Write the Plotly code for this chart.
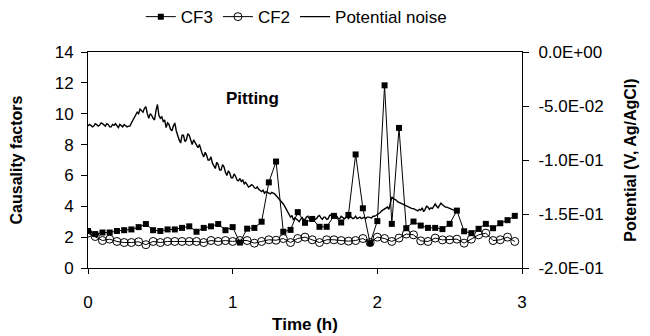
import plotly.graph_objects as go

# ---- data ----
cf_time = [round(i * 0.05, 2) for i in range(60)]
cf3 = [2.4, 2.2, 2.3, 2.3, 2.4, 2.45, 2.5, 2.65, 2.85, 2.45,
       2.4, 2.5, 2.5, 2.6, 2.7, 2.35, 2.6, 2.7, 2.85, 2.45,
       2.65, 1.65, 2.55, 2.6, 3.0, 5.55, 6.9, 2.35, 2.47, 3.62,
       2.93, 3.18, 2.67, 2.67, 3.38, 2.95, 3.44, 7.36, 3.87, 1.61,
       3.04, 11.84, 2.86, 9.08, 2.58, 3.01, 2.75, 2.6, 2.6, 2.52,
       2.86, 3.72, 2.38, 2.26, 2.54, 2.86, 2.58, 2.9, 3.1, 3.38]
cf2 = [2.26, 2.04, 1.78, 1.87, 1.72, 1.65, 1.65, 1.70, 1.51, 1.72,
       1.65, 1.72, 1.72, 1.72, 1.72, 1.72, 1.65, 1.78, 1.72, 1.78,
       1.72, 1.78, 1.78, 1.61, 1.72, 1.83, 1.80, 1.91, 1.65, 1.91,
       2.0, 1.83, 1.65, 1.83, 1.83, 1.78, 1.74, 1.78, 1.91, 1.65,
       2.0, 1.91, 1.72, 1.94, 2.2, 2.15, 1.76, 1.72, 1.94, 1.82,
       1.83, 1.87, 1.61, 1.87, 2.15, 2.26, 1.78, 1.83, 2.0, 1.72]

pot_time = [round(i * 0.01, 2) for i in range(255)]
potential = [
    -0.0686, -0.0671, -0.0679, -0.0693, -0.0686, -0.0664, -0.0671, -0.0686, -0.0679, -0.0657,
    -0.0664, -0.0679, -0.0686, -0.0664, -0.0671, -0.0693, -0.0693, -0.0671, -0.0679, -0.0664,
    -0.0686, -0.0700, -0.0671, -0.0679, -0.0693, -0.0671, -0.0679, -0.0693, -0.0686, -0.0686,
    -0.0657, -0.0629, -0.0600, -0.0586, -0.0557, -0.0571, -0.0529, -0.0543, -0.0557, -0.0521,
    -0.0507, -0.0571, -0.0614, -0.0571, -0.0586, -0.0614, -0.0629, -0.0543, -0.0486, -0.0586,
    -0.0614, -0.0600, -0.0643, -0.0629, -0.0700, -0.0657, -0.0671, -0.0714, -0.0729, -0.0686,
    -0.0657, -0.0729, -0.0786, -0.0814, -0.0843, -0.0771, -0.0771, -0.0829, -0.0814, -0.0757,
    -0.0771, -0.0829, -0.0857, -0.0814, -0.0843, -0.0871, -0.0886, -0.0857, -0.0914, -0.0943,
    -0.0971, -0.0929, -0.0957, -0.1000, -0.1000, -0.0971, -0.1029, -0.1057, -0.1079, -0.1021,
    -0.1043, -0.1093, -0.1093, -0.1043, -0.1064, -0.1114, -0.1143, -0.1100, -0.1121, -0.1164,
    -0.1164, -0.1129, -0.1150, -0.1186, -0.1193, -0.1171, -0.1200, -0.1186, -0.1221, -0.1207,
    -0.1229, -0.1250, -0.1243, -0.1229, -0.1236, -0.1257, -0.1264, -0.1250, -0.1271, -0.1286,
    -0.1293, -0.1279, -0.1307, -0.1293, -0.1300, -0.1314, -0.1314, -0.1300, -0.1307, -0.1314,
    -0.1329, -0.1343, -0.1357, -0.1371, -0.1386, -0.1407, -0.1429, -0.1457, -0.1486, -0.1500,
    -0.1529, -0.1514, -0.1557, -0.1536, -0.1543, -0.1557, -0.1571, -0.1543, -0.1529, -0.1557,
    -0.1550, -0.1529, -0.1521, -0.1543, -0.1557, -0.1529, -0.1529, -0.1550, -0.1543, -0.1521,
    -0.1514, -0.1536, -0.1550, -0.1529, -0.1529, -0.1550, -0.1543, -0.1514, -0.1507, -0.1529,
    -0.1536, -0.1514, -0.1521, -0.1543, -0.1543, -0.1521, -0.1529, -0.1543, -0.1536, -0.1521,
    -0.1543, -0.1529, -0.1529, -0.1543, -0.1536, -0.1521, -0.1543, -0.1536, -0.1529, -0.1543,
    -0.1536, -0.1529, -0.1543, -0.1529, -0.1529, -0.1536, -0.1536, -0.1521, -0.1521, -0.1514,
    -0.1507, -0.1500, -0.1486, -0.1471, -0.1464, -0.1450, -0.1443, -0.1436, -0.1457, -0.1386,
    -0.1343, -0.1357, -0.1364, -0.1371, -0.1386, -0.1393, -0.1400, -0.1407, -0.1414, -0.1414,
    -0.1421, -0.1429, -0.1436, -0.1443, -0.1450, -0.1450, -0.1457, -0.1464, -0.1471, -0.1457,
    -0.1464, -0.1443, -0.1479, -0.1457, -0.1429, -0.1436, -0.1457, -0.1443, -0.1450, -0.1429,
    -0.1407, -0.1429, -0.1443, -0.1421, -0.1400, -0.1414, -0.1429, -0.1436, -0.1436, -0.1443,
    -0.1450, -0.1450, -0.1457, -0.1464, -0.1471]

x_ticks = [0, 1, 2, 3]
y_ticks = [0, 2, 4, 6, 8, 10, 12, 14]
y2_ticks = [0.0, -0.05, -0.10, -0.15, -0.20]
y2_ticktext = ["0.0E+00", "-5.0E-02", "-1.0E-01", "-1.5E-01", "-2.0E-01"]

FONT = "Liberation Sans, Arial, sans-serif"

fig = go.Figure()
fig.add_trace(go.Scatter(x=cf_time, y=cf3, name="CF3", mode="lines+markers",
                         line=dict(color="black", width=1),
                         marker=dict(symbol="square", size=6, color="black")))
fig.add_trace(go.Scatter(x=cf_time, y=cf2, name="CF2", mode="lines+markers",
                         line=dict(color="black", width=1),
                         marker=dict(symbol="circle-open", size=8, color="black",
                                     line=dict(width=1, color="black"))))
fig.add_trace(go.Scatter(x=pot_time, y=potential, name="Potential noise", mode="lines",
                         line=dict(color="black", width=1.4), yaxis="y2"))

fig.add_annotation(x=1.14, y=11.0, text="<b>Pitting</b>", showarrow=False,
                   font=dict(size=17, color="black", family=FONT))

fig.update_layout(
    template="none",
    width=650, height=336,
    margin=dict(l=88, r=128, t=52, b=68, pad=0, autoexpand=False),
    paper_bgcolor="white", plot_bgcolor="white",
    font=dict(family=FONT, size=17, color="black"),
    showlegend=True,
    legend=dict(orientation="h", x=0.48, xanchor="center", y=1.245, yanchor="top",
                font=dict(size=17), itemwidth=30, tracegroupgap=0,
                bgcolor="rgba(0,0,0,0)", borderwidth=0),
    xaxis=dict(range=[0, 3], tickvals=x_ticks, showline=True, linecolor="black",
               linewidth=1, mirror=True, ticks="outside", ticklen=5, tickcolor="black",
               showgrid=False, zeroline=False, ticklabelstandoff=14, automargin=False,
               title=dict(text="<b>Time (h)</b>", font=dict(size=17), standoff=6)),
    yaxis=dict(range=[0, 14], tickvals=y_ticks, showline=True, linecolor="black",
               linewidth=1, ticks="outside", ticklen=6, tickcolor="black",
               showgrid=False, zeroline=False, ticklabelstandoff=4, automargin=False,
               title=dict(text="<b>Causality factors</b>", font=dict(size=16), standoff=28)),
    yaxis2=dict(range=[-0.2, 0.0], overlaying="y", side="right", tickvals=y2_ticks,
                ticktext=y2_ticktext, showline=True, linecolor="black", linewidth=1,
                ticks="outside", ticklen=6, tickcolor="black", showgrid=False,
                zeroline=False, ticklabelstandoff=6, automargin=False,
                title=dict(text="<b>Potential (V, Ag/AgCl)</b>", font=dict(size=16), standoff=22)),
)

fig.write_html("out.html", config={"displayModeBar": False},
               post_script="document.body.style.margin='0';document.body.style.padding='0';")
